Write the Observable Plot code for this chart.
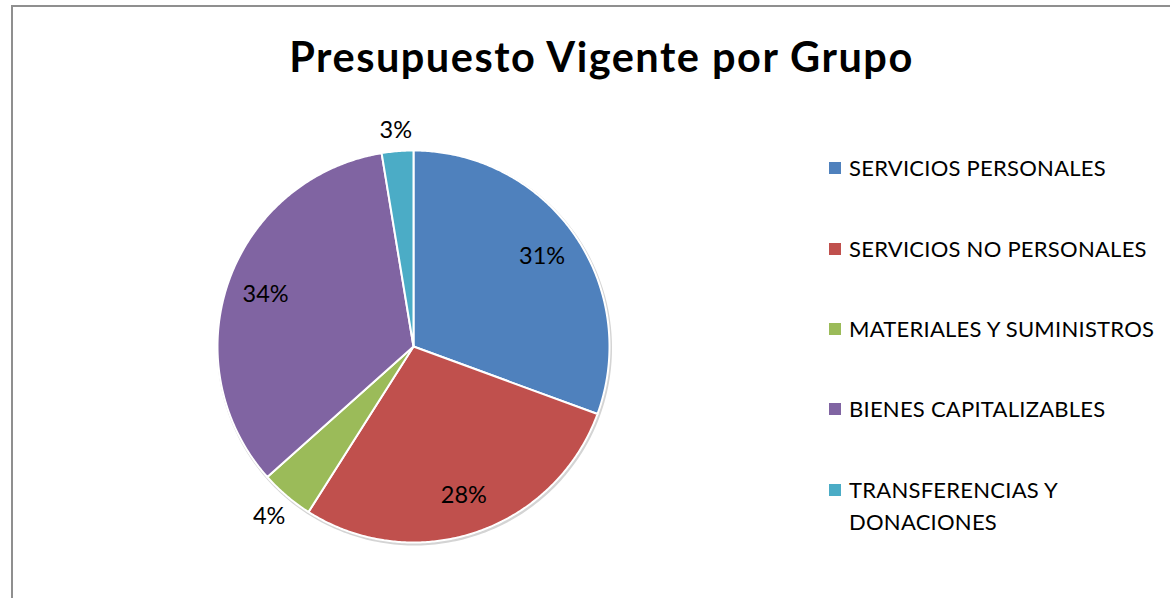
<!DOCTYPE html>
<html>
<head>
<meta charset="utf-8">
<script src="https://cdn.jsdelivr.net/npm/d3@7"></script>
<script src="https://cdn.jsdelivr.net/npm/@observablehq/plot@0.6"></script>
<style>
  html, body { margin: 0; padding: 0; background: #fff; }
  #wrap { position: relative; width: 1170px; height: 598px; overflow: hidden; font-family: Lato, "Open Sans", sans-serif; }
  #frame { position: absolute; left: 11px; top: 5px; width: 1200px; height: 700px; border-left: 2px solid #8f8f8f; border-top: 2px solid #8f8f8f; box-sizing: border-box; }
  #title { position: absolute; left: 0; top: 28px; width: 1203px; text-align: center; font-weight: 700; font-size: 41.5px; letter-spacing: 1.5px; color: #000; line-height: 56px; }
  #chart { position: absolute; left: 0; top: 0; }
  #legend { position: absolute; left: 829px; top: 0; font-size: 22px; letter-spacing: 0.25px; color: #000; }
  .item { position: absolute; left: 0; width: 345px; display: flex; align-items: flex-start; line-height: 32px; }
  .sw { width: 12px; height: 12px; margin-top: 10px; margin-right: 8px; flex: none; }
</style>
</head>
<body>
<div id="wrap">
  <div id="frame"></div>
  <div id="chart"></div>
  <div id="title">Presupuesto Vigente por Grupo</div>
  <div id="legend"></div>
</div>
<script>
// ---- data ----
const categories = ["SERVICIOS PERSONALES", "SERVICIOS NO PERSONALES", "MATERIALES Y SUMINISTROS", "BIENES CAPITALIZABLES", "TRANSFERENCIAS Y DONACIONES"];
const legendLines = [["SERVICIOS PERSONALES"], ["SERVICIOS NO PERSONALES"], ["MATERIALES Y SUMINISTROS"], ["BIENES CAPITALIZABLES"], ["TRANSFERENCIAS Y", "DONACIONES"]];
const values = [30.6, 28.4, 4.4, 34.0, 2.6];
const percentLabels = ["31%", "28%", "4%", "34%", "3%"];
const colors = ["#4F81BD", "#C0504D", "#9BBB59", "#8064A2", "#4BACC6"];

// ---- layout constants ----
const R = 196;            // pie radius in px
const labelFont = 23.5;

// ---- build slice polygons (unit circle, start at 12 o'clock, clockwise) ----
const total = d3.sum(values);
const polys = [];
const labelRows = [];
let cum = 0;
values.forEach((v, i) => {
  const a0 = cum / total * 2 * Math.PI;
  cum += v;
  const a1 = cum / total * 2 * Math.PI;
  polys.push({cat: categories[i], x: 0, y: 0});
  const n = Math.max(4, Math.ceil((a1 - a0) / (Math.PI / 360)));
  for (let k = 0; k <= n; k++) {
    const t = a0 + (a1 - a0) * k / n;
    polys.push({cat: categories[i], x: Math.sin(t), y: -Math.cos(t)});
  }
  const am = (a0 + a1) / 2;
  let r;
  if (v / total < 0.05) {
    // outside label: place box just beyond the rim
    const halfW = percentLabels[i].length * 0.33 * labelFont;
    const halfH = 0.5 * labelFont;
    const support = Math.abs(Math.sin(am)) * halfW + Math.abs(Math.cos(am)) * halfH;
    r = 1 + (8 + support) / R;
  } else {
    r = 0.8;
  }
  labelRows.push({text: percentLabels[i], x: r * Math.sin(am), y: -r * Math.cos(am)});
});

// circle outline for subtle shadow
const ring = d3.range(0, 361).map(d => ({x: Math.sin(d * Math.PI / 180), y: -Math.cos(d * Math.PI / 180)}));

const chart = Plot.plot({
  width: 1170,
  height: 598,
  margin: 0,
  x: {domain: [-1, 1], range: [413 - R, 413 + R], axis: null},
  y: {domain: [-1, 1], range: [346 - R, 346 + R], axis: null},
  color: {domain: categories, range: colors},
  style: {fontFamily: "Lato, 'Open Sans', sans-serif", background: "transparent"},
  marks: [
    Plot.line(ring, {x: "x", y: "y", stroke: "#d4d4d4", strokeWidth: 3, dx: 1, dy: 1.5, curve: "linear-closed"}),
    Plot.line(polys, {x: "x", y: "y", z: "cat", fill: "cat", stroke: "white", strokeWidth: 2, strokeLinejoin: "round", curve: "linear-closed"}),
    Plot.text(labelRows, {x: "x", y: "y", text: "text", fontSize: labelFont, fill: "black"})
  ]
});
document.getElementById("chart").appendChild(chart);

// ---- legend ----
const legend = document.getElementById("legend");
const rowY = [152, 233, 313, 393, 474];
legendLines.forEach((lines, i) => {
  const it = document.createElement("div");
  it.className = "item";
  it.style.top = rowY[i] + "px";
  const sw = document.createElement("div");
  sw.className = "sw";
  sw.style.background = colors[i];
  const tx = document.createElement("div");
  tx.innerHTML = lines.join("<br>");
  it.appendChild(sw);
  it.appendChild(tx);
  legend.appendChild(it);
});
</script>
</body>
</html>
